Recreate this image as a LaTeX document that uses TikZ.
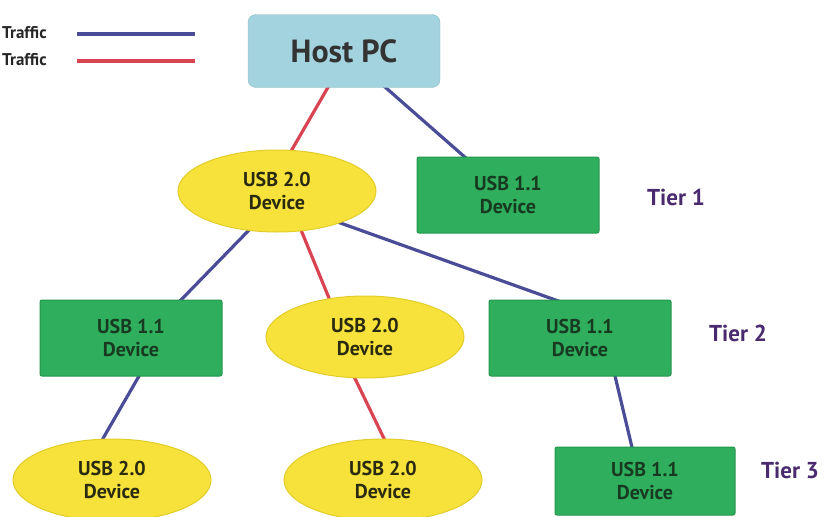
\documentclass[tikz,border=0pt]{standalone}
\usepackage{fontspec}
\setmainfont{PT Sans}
\usetikzlibrary{shapes.geometric,backgrounds}
\definecolor{lblue}{HTML}{4A4C98}
\definecolor{lred}{HTML}{D94452}
\definecolor{hostfill}{HTML}{A3D3DE}
\definecolor{hostdraw}{HTML}{8CBBC6}
\definecolor{gfill}{HTML}{2FAE5E}
\definecolor{gdraw}{HTML}{25964E}
\definecolor{yfill}{HTML}{F6E23A}
\definecolor{ydraw}{HTML}{E2CC2A}
\definecolor{tiercol}{HTML}{4A2A6E}
\definecolor{gtext}{HTML}{183A20}
\definecolor{ytext}{HTML}{2A2A10}
\tikzset{
  bluelink/.style={draw=lblue, line width=3.2pt},
  redlink/.style={draw=lred, line width=3.2pt},
  host/.style={draw=hostdraw, fill=hostfill, rounded corners=8pt, minimum width=192pt, minimum height=73pt, font=\bfseries\fontsize{32}{34}\selectfont, text=black!80},
  usbone/.style={draw=gdraw, fill=gfill, line width=1pt, rounded corners=2pt, minimum width=182pt, minimum height=76pt, font=\bfseries\fontsize{20}{23}\selectfont, text=gtext, align=center},
  usbtwo/.style={ellipse, draw=ydraw, fill=yfill, line width=1pt, minimum width=198pt, minimum height=82pt, inner sep=0pt, font=\bfseries\fontsize{20}{23}\selectfont, text=ytext, align=center},
  tier/.style={font=\bfseries\fontsize{23}{26}\selectfont, text=tiercol},
  legtext/.style={font=\bfseries\fontsize{17}{20}\selectfont, text=black!85, anchor=west, inner sep=0pt}
}
\begin{document}
\begin{tikzpicture}[x=1pt,y=-1pt]
\useasboundingbox (0,0) rectangle (828,517);
% legend
\node[legtext] (lt1) at (2,33) {Traffic};
\node[legtext] (lt2) at (2,60) {Traffic};
\coordinate (lb1) at (77,34);
\coordinate (lb2) at (195,34);
\coordinate (lr1) at (77,61);
\coordinate (lr2) at (195,61);
\draw[bluelink] (lb1) -- (lb2);
\draw[redlink] (lr1) -- (lr2);
% nodes
\node[host] (host) at (344,51) {Host PC};
\node[usbtwo] (a) at (277,191) {USB 2.0\\Device};
\node[usbone] (b) at (508,195) {USB 1.1\\Device};
\node[usbone] (c) at (131,338) {USB 1.1\\Device};
\node[usbtwo] (d) at (365,337) {USB 2.0\\Device};
\node[usbone] (e) at (580,338) {USB 1.1\\Device};
\node[usbtwo] (f) at (112,480) {USB 2.0\\Device};
\node[usbtwo] (g) at (383,480) {USB 2.0\\Device};
\node[usbone, minimum width=180pt, minimum height=68pt] (h) at (645,481) {USB 1.1\\Device};
\node[tier] (t1) at (676,197) {Tier 1};
\node[tier] (t2) at (738,333) {Tier 2};
\node[tier] (t3) at (790,470) {Tier 3};
% connectors
\begin{scope}[on background layer]
\draw[redlink] ([xshift=5pt]host.center) -- ([xshift=-9pt]a.center);
\draw[bluelink] (host.center) -- (b.center);
\draw[bluelink] ([xshift=10pt]a.center) -- ([xshift=13pt]c.center);
\draw[redlink] ([xshift=8pt]a.center) -- ([xshift=-20pt]d.center);
\draw[bluelink] ([xshift=-26pt]a.center) -- ([xshift=2pt,yshift=-10pt]e.north);
\draw[bluelink] ([xshift=30pt]c.center) -- ([xshift=-33pt]f.center);
\draw[redlink] ([xshift=-30pt]d.center) -- ([xshift=21pt]g.center);
\draw[bluelink] ([xshift=26pt]e.center) -- ([xshift=-5pt]h.center);
\end{scope}
\end{tikzpicture}
\end{document}
